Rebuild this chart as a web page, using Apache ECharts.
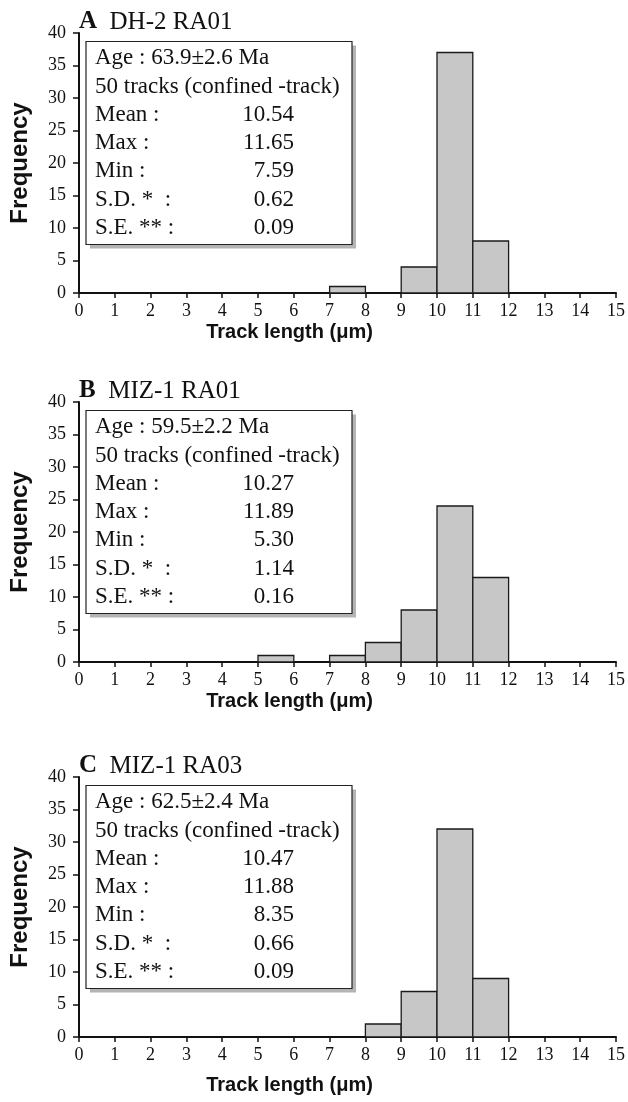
<!DOCTYPE html>
<html>
<head>
<meta charset="utf-8">
<script src="https://cdn.jsdelivr.net/npm/echarts@6/dist/echarts.min.js"></script>
<style>
html, body { margin: 0; padding: 0; background: #fff; }
#main { width: 628px; height: 1102px; }
</style>
</head>
<body>
<div id="main"></div>
<script>
// track length bins, 1 um wide: 0-1, 1-2 ... 14-15
var binStart = [0, 1, 2, 3, 4, 5, 6, 7, 8, 9, 10, 11, 12, 13, 14];
var countsA = [0, 0, 0, 0, 0, 0, 0, 1, 0, 4, 37, 8, 0, 0, 0];
var countsB = [0, 0, 0, 0, 0, 1, 0, 1, 3, 8, 24, 13, 0, 0, 0];
var countsC = [0, 0, 0, 0, 0, 0, 0, 0, 2, 7, 32, 9, 0, 0, 0];

var panelLetters = ['A', 'B', 'C'];
var sampleNames = ['DH-2 RA01', 'MIZ-1 RA01', 'MIZ-1 RA03'];
var ages = ['63.9±2.6', '59.5±2.2', '62.5±2.4'];
var trackCounts = [50, 50, 50];
var means = ['10.54', '10.27', '10.47'];
var maxes = ['11.65', '11.89', '11.88'];
var mins = ['7.59', '5.30', '8.35'];
var sds = ['0.62', '1.14', '0.66'];
var ses = ['0.09', '0.16', '0.09'];

var xMin = 0, xMax = 15;
var yMin = 0, yMax = 40, yStep = 5;

var allCounts = [countsA, countsB, countsC];

// layout
var gridTops = [33, 402, 777];
var gridH = 260;
var gridLeft = 78;
var gridRight = 9;
var nameGaps = [29, 29, 38];
var serif = '"Liberation Serif", "Times New Roman", serif';
var sans = '"Liberation Sans", Arial, sans-serif';

var chart = echarts.init(document.getElementById('main'), null, { renderer: 'canvas' });

function renderBin(params, api) {
  var topLeft = api.coord([api.value(0), api.value(2)]);
  var bottomRight = api.coord([api.value(1), 0]);
  return {
    type: 'rect',
    shape: {
      x: topLeft[0],
      y: topLeft[1],
      width: bottomRight[0] - topLeft[0],
      height: bottomRight[1] - topLeft[1]
    },
    style: { fill: '#c6c7c6', stroke: '#1a1a1a', lineWidth: 1.3 }
  };
}

var grids = [], xAxes = [], yAxes = [], series = [], titles = [], graphics = [];

for (var i = 0; i < 3; i++) {
  grids.push({ left: gridLeft, right: gridRight, top: gridTops[i], height: gridH });

  xAxes.push({
    gridIndex: i,
    type: 'value',
    min: xMin,
    max: xMax,
    interval: 1,
    name: 'Track length (\u03bcm)',
    nameLocation: 'middle',
    nameGap: nameGaps[i],
    nameTextStyle: {
      fontFamily: sans, fontWeight: 'bold', fontSize: 20, color: '#111',
      padding: [0, 116, 0, 0]
    },
    splitLine: { show: false },
    axisLine: { onZero: false, lineStyle: { color: '#111', width: 2 } },
    axisTick: { length: 5, lineStyle: { color: '#111', width: 1.5 } },
    axisLabel: { fontFamily: serif, fontSize: 18, color: '#111', margin: 9 }
  });

  yAxes.push({
    gridIndex: i,
    type: 'value',
    min: yMin,
    max: yMax,
    interval: yStep,
    name: 'Frequency',
    nameLocation: 'middle',
    nameGap: 47,
    nameTextStyle: { fontFamily: sans, fontWeight: 'bold', fontSize: 24, color: '#111' },
    splitLine: { show: false },
    axisLine: { show: true, lineStyle: { color: '#111', width: 2 } },
    axisTick: { show: true, length: 6, lineStyle: { color: '#111', width: 1.5 } },
    axisLabel: { fontFamily: serif, fontSize: 18, color: '#111', margin: 13 }
  });

  var binData = [];
  allCounts[i].forEach(function (c, k) {
    if (c > 0) binData.push([binStart[k], binStart[k] + 1, c]);
  });
  series.push({
    type: 'custom',
    xAxisIndex: i,
    yAxisIndex: i,
    renderItem: renderBin,
    encode: { x: [0, 1], y: 2 },
    data: binData,
    silent: true
  });

  titles.push({
    text: '{b|' + panelLetters[i] + '}  ' + sampleNames[i],
    left: 79,
    top: gridTops[i] - 24,
    padding: 0,
    textStyle: {
      fontFamily: serif, fontSize: 25, fontWeight: 'normal', color: '#111', lineHeight: 26,
      rich: { b: { fontFamily: serif, fontSize: 25, fontWeight: 'bold', color: '#111', lineHeight: 26 } }
    }
  });

  // stats box
  var boxTop = gridTops[i] + 8.5;
  var boxLeft = 86, boxW = 266, boxH = 203;
  graphics.push({
    type: 'rect', z: 10,
    shape: { x: boxLeft + 4, y: boxTop + 4, width: boxW, height: boxH },
    style: { fill: '#b4b4b4' }
  });
  graphics.push({
    type: 'rect', z: 11,
    shape: { x: boxLeft, y: boxTop, width: boxW, height: boxH },
    style: { fill: '#fff', stroke: '#222', lineWidth: 1.2 }
  });
  var rows = [
    ['Age : ' + ages[i] + ' Ma', ''],
    [trackCounts[i] + ' tracks (confined -track)', ''],
    ['Mean :', means[i]],
    ['Max :', maxes[i]],
    ['Min :', mins[i]],
    ['S.D. *  :', sds[i]],
    ['S.E. ** :', ses[i]]
  ];
  rows.forEach(function (r, k) {
    var y = boxTop + 16.7 + 28.3 * k;
    graphics.push({
      type: 'text', z: 12, x: 95, y: y,
      style: { text: r[0], font: '23px ' + serif, fill: '#111', align: 'left', verticalAlign: 'middle' }
    });
    if (r[1]) {
      graphics.push({
        type: 'text', z: 12, x: 294, y: y,
        style: { text: r[1], font: '23px ' + serif, fill: '#111', align: 'right', verticalAlign: 'middle' }
      });
    }
  });
}

chart.setOption({
  backgroundColor: '#fff',
  animation: false,
  title: titles,
  grid: grids,
  xAxis: xAxes,
  yAxis: yAxes,
  series: series,
  graphic: graphics
});
</script>
</body>
</html>
